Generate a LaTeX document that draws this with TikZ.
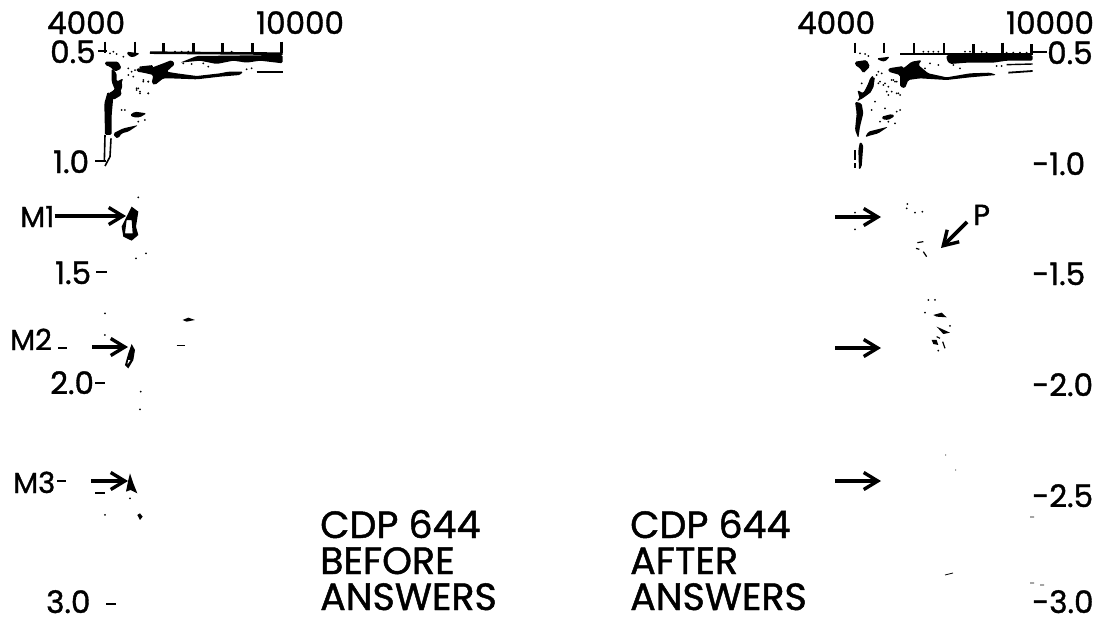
\documentclass[tikz,border=0pt]{standalone}
\usepackage{fontspec}
\setmainfont{Poppins}[FakeBold=1.2]
\usetikzlibrary{arrows.meta}
\tikzset{
 lab/.style={anchor=base west,inner sep=0pt,font=\fontsize{31}{31}\selectfont},
 mlab/.style={anchor=base west,inner sep=0pt,font=\fontsize{29}{29}\selectfont},
 big/.style={anchor=base west,inner sep=0pt,font=\fontsize{38}{38}\selectfont},
 arr/.style={line width=3.6pt,-{Straight Barb[length=14pt,width=17pt,line width=3.4pt]}},
 ink/.style={fill=black,draw=none,rounded corners=1.5pt},
 tk/.style={line width=2.8pt},
 zoomed/.style={x=0.3333pt,y=-0.3333pt}
}
\newcommand{\specks}[1]{\foreach \p/\q in {#1}{\fill (\p,\q) circle[radius=3];}}
\begin{document}
\begin{tikzpicture}[x=1pt,y=-1pt]
\useasboundingbox (0,0) rectangle (1112,622);
% left labels
\node[lab] (a4) at (47,34) {4000};
\node[lab] (a10) at (256,34) {10000};
\node[lab] (a05) at (50,63) {0.5};
\node[lab] (a10b) at (53,173) {1.0};
\node[lab] (a15) at (55,284) {1.5};
\node[lab] (a20) at (50,394) {2.0};
\node[lab] (a30) at (46,613) {3.0};
\node[mlab] (m1) at (20,227) {M1};
\node[mlab] (m2) at (10,350) {M2};
\node[mlab] (m3) at (13,493) {M3};
\foreach \a/\b/\c in {98/107/51,95/106/161,96/107/272,58/67/348,95/105/383,57/66/481,95/105/493,106/116/604}
  \draw[tk] (\a,\c) -- (\b,\c);
% left arrows
\coordinate (t1) at (126,216); \coordinate (t2) at (128,347); \coordinate (t3) at (128,481);
\coordinate (s2) at (92,347); \coordinate (s3) at (91,481);
\draw[arr] (m1.east |- t1) -- (t1);
\draw[arr] (s2) -- (t2);
\draw[arr] (s3) -- (t3);
% left band: zoom coordinates
\begin{scope}[shift={(100,40)},zoomed]
\foreach \x/\y in {15/5,105/5,190/10,280/10,368/10,458/10,545/5} \draw[line width=2.8pt] (\x,\y) -- (\x,38);
\draw[line width=2.6pt] (150,38) -- (548,41);
\fill[ink] (240,68) -- (290,48) -- (548,45) -- (548,70) -- (480,62) -- (440,68) -- (400,62) -- (350,72) -- (300,62) -- cycle;
\fill[ink] (110,85) -- (150,85) -- (190,70) -- (215,60) -- (225,72) -- (200,95) -- (230,100) -- (290,108) -- (360,100) -- (385,95) -- (430,95) -- (420,105) -- (360,110) -- (290,118) -- (210,115) -- (190,115) -- (165,135) -- (155,130) -- (160,105) -- (130,98) -- (110,95) -- cycle;
\draw[line width=1.8pt] (470,95) -- (548,95);
\fill[ink] (15,65) -- (55,65) -- (65,85) -- (45,95) -- (30,80) -- (15,75) -- cycle;
\fill[ink] (35,85) -- (50,100) -- (50,125) -- (70,115) -- (60,140) -- (65,165) -- (40,180) -- (25,160) -- (45,150) -- (35,125) -- cycle;
\fill[ink] (80,35) -- (120,40) -- (100,52) -- (85,48) -- cycle;
\specks{30/40,40/35,50/42,70/50,85/85,95/95,100/110,130/125,145/125,110/145,120/155,145/160,225/35,245/35,265/35,395/35,250/70,275/72,310/70,325/80,440/88,455/85,210/80}
\end{scope}
% left column: zoom coordinates
\begin{scope}[shift={(95,60)},zoomed]
\fill[ink] (80,60) -- (82,85) -- (60,110) -- (45,100) -- (62,85) -- cycle;
\fill[ink] (38,95) -- (55,110) -- (50,165) -- (50,225) -- (30,225) -- (28,130) -- cycle;
\fill[ink] (55,220) -- (75,210) -- (85,205) -- (130,195) -- (100,215) -- (80,220) -- (70,235) -- (60,232) -- cycle;
\fill[ink] (105,165) -- (120,155) -- (155,160) -- (135,172) -- (115,172) -- cycle;
\fill[ink] (130,20) -- (175,15) -- (170,35) -- (140,30) -- cycle;
\draw[line width=1.6pt] (30,225) -- (28,305);
\draw[line width=1.6pt] (48,235) -- (45,290) -- (30,318);
\specks{125/90,130/85,135/100,145/60,160/65,160/100,80/150,90/150,130/185,150/180,100/45,120/30}
\end{scope}
% M blobs: zoom coordinates
\begin{scope}[shift={(0,190)},zoomed]
\fill[black,even odd rule] (395,50) -- (415,65) -- (408,110) -- (415,135) -- (395,152) -- (370,140) -- (365,110) -- (385,70) -- cycle (380,90) -- (395,90) -- (398,130) -- (375,130) -- cycle;
\fill[black,even odd rule] (395,462) -- (405,480) -- (400,510) -- (385,535) -- (375,525) -- (385,490) -- cycle (384,510) -- (392,510) -- (382,525) -- cycle;
\fill[black] (390,850) -- (400,880) -- (412,910) -- (392,900) -- (378,905) -- (385,870) -- cycle;
\specks{415/22,408/205,438/190,315/370,315/435,422/605,420/658,315/975,390/925}
\fill[black] (548,390) -- (565,383) -- (585,390) -- (560,395) -- cycle;
\draw[line width=.7pt] (530,465) -- (555,465);
\fill[black] (412,975) -- (420,970) -- (428,980) -- (420,990) -- cycle;
\end{scope}
% bottom titles
\node[big] (b1) at (320,538) {CDP 644};
\node[big] (b2) at (320,574) {BEFORE};
\node[big] (b3) at (320,610) {ANSWERS};
\node[big] (c1) at (630,538) {CDP 644};
\node[big] (c2) at (630,574) {AFTER};
\node[big] (c3) at (630,610) {ANSWERS};
% right labels
\node[lab] (r4) at (797,34) {4000};
\node[lab] (r10) at (1006,34) {10000};
\node[lab] (r05) at (1047,64) {0.5};
\foreach \n/\t/\y in {r1/-1.0/175,r2/-1.5/285,r3/-2.0/396,r5/-2.5/507,r6/-3.0/613}
  \node[lab] (\n) at (1032,\y) {\t};
\node[mlab] (p) at (973,225) {P};
% right arrows
\coordinate (u1) at (835,217); \coordinate (v1) at (881,217);
\coordinate (u2) at (835,348); \coordinate (v2) at (881,348);
\coordinate (u3) at (835,481); \coordinate (v3) at (881,481);
\coordinate (pt) at (941,248); \coordinate (pf) at (967,222);
\draw[arr] (u1) -- (v1);
\draw[arr] (u2) -- (v2);
\draw[arr] (u3) -- (v3);
\draw[arr] (pf) -- (pt);
% right band: zoom coordinates
\begin{scope}[shift={(850,40)},zoomed]
\foreach \x/\y in {15/8,102/8,192/10,282/10,370/12,458/8,545/12} \draw[line width=2.8pt] (\x,\y) -- (\x,38);
\draw[tk] (545,36) -- (590,36);
\draw[line width=2.6pt] (150,42) -- (548,42);
\fill[ink] (290,45) -- (548,45) -- (548,62) -- (470,62) -- (430,68) -- (350,68) -- (300,72) -- (290,60) -- cycle;
\draw[line width=1.4pt] (470,74) -- (548,72);
\draw[line width=1.8pt] (475,98) -- (548,93);
\fill[ink] (115,85) -- (160,85) -- (185,65) -- (215,60) -- (205,75) -- (235,100) -- (290,112) -- (360,100) -- (420,98) -- (440,105) -- (360,112) -- (290,120) -- (210,115) -- (175,120) -- (165,145) -- (150,140) -- (150,105) -- (115,95) -- cycle;
\fill[ink] (15,65) -- (50,60) -- (60,80) -- (40,100) -- (30,85) -- (15,75) -- cycle;
\fill[ink] (65,115) -- (75,110) -- (70,145) -- (50,165) -- (30,180) -- (22,150) -- (40,160) -- (55,130) -- cycle;
\fill[ink] (80,55) -- (120,50) -- (105,65) -- (90,62) -- cycle;
\specks{30/40,45/42,55/48,220/35,235/35,250/35,265/35,345/35,360/35,395/35,410/38,470/38,490/38,510/38,530/38,85/95,95/100,90/125,105/130,130/120,140/125,125/155,145/160,115/140,240/70,265/75,310/75,330/85,210/90,225/85,440/78,455/78}
\end{scope}
% right column: zoom coordinates
\begin{scope}[shift={(845,60)},zoomed]
\fill[ink] (75,55) -- (85,45) -- (80,95) -- (60,110) -- (35,125) -- (45,110) -- (65,85) -- cycle;
\fill[ink] (30,125) -- (50,130) -- (55,160) -- (45,200) -- (40,235) -- (30,210) -- (35,160) -- cycle;
\fill[ink] (45,245) -- (55,255) -- (50,320) -- (42,330) -- (40,270) -- cycle;
\draw[line width=1.2pt] (30,270) -- (30,300) (30,310) -- (30,325);
\fill[ink] (60,232) -- (70,215) -- (130,200) -- (100,220) -- (70,228) -- cycle;
\fill[ink] (110,170) -- (140,162) -- (150,168) -- (130,180) -- (112,178) -- cycle;
\fill[ink] (130,25) -- (175,18) -- (175,40) -- (150,35) -- cycle;
\specks{50/70,95/45,100/70,115/75,125/95,130/105,140/60,150/65,155/100,165/105,90/125,80/150,120/145,155/155,165/150,105/185,130/185,150/190}
\end{scope}
% right specks: zoom coordinates
\begin{scope}[shift={(820,190)},zoomed]
\fill[black] (340,375) -- (365,368) -- (380,382) -- (350,380) -- cycle;
\fill[black] (350,410) -- (390,428) -- (370,432) -- cycle;
\fill[black] (335,450) -- (350,450) -- (355,465) -- (340,462) -- cycle;
\draw[line width=1.2pt] (292,158) -- (310,155) (288,175) -- (298,178) (310,185) -- (320,200) (350,440) -- (360,445) (368,455) -- (375,475);
\specks{262/42,260/55,285/68,307/65,105/68,105/118,325/330,345/330,315/368,390/408,355/482}
\end{scope}
% stray marks
\draw[line width=.8pt] (1030,517) -- (1034,517) (1030,583) -- (1034,583) (945,575) -- (953,573) (945,455) -- (946,455) (955,470) -- (956,470) (1040,585) -- (1044,585);
\end{tikzpicture}
\end{document}
